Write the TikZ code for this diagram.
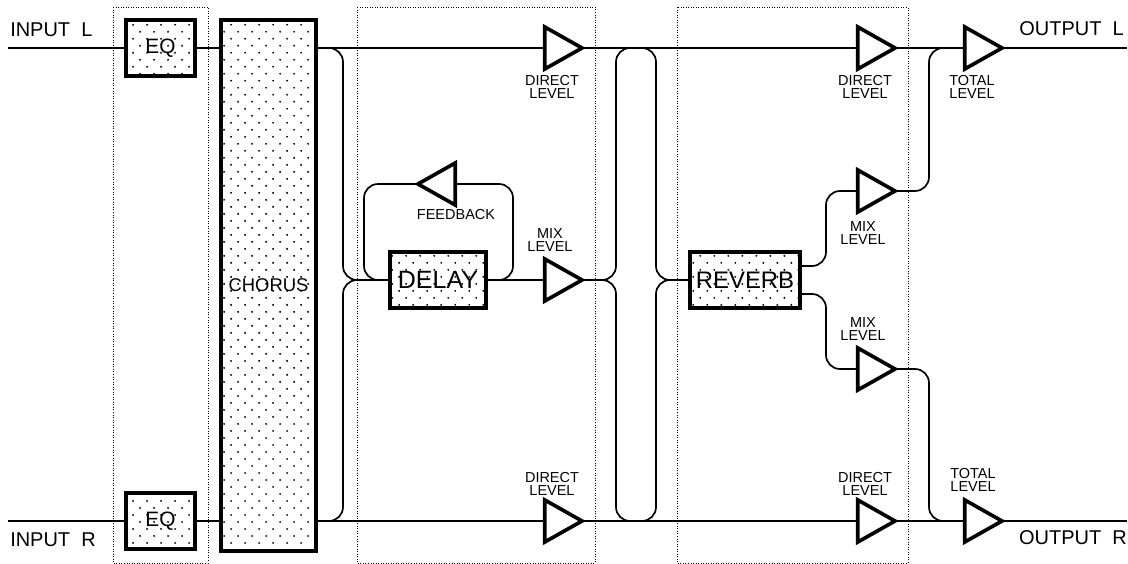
\documentclass[tikz,border=0pt]{standalone}
\usepackage{fontspec}
\setmainfont{Liberation Sans}
\usetikzlibrary{shapes.geometric,patterns}

\pgfdeclarepatternformonly{stipple}{\pgfqpoint{-1pt}{-1pt}}{\pgfqpoint{8.96pt}{8.96pt}}{\pgfqpoint{9.96pt}{9.96pt}}{
    \pgfpathcircle{\pgfqpoint{0pt}{0pt}}{.75pt}
    \pgfpathcircle{\pgfqpoint{4.98pt}{4.98pt}}{.75pt}
    \pgfusepath{fill}
}

\tikzset{
    sig/.style={line width=1.2pt,rounded corners=.35cm},
    group/.style={line width=.7pt,dash pattern=on .7pt off 1.1pt},
    fx/.style={draw,line width=2.4pt,pattern=stipple,inner sep=0pt,outer sep=0pt},
    amp/.style={draw,line width=2.6pt,isosceles triangle,isosceles triangle stretches,
        minimum width=1.05cm,minimum height=.93cm,inner sep=0pt,outer sep=0pt},
    io/.style={font=\fontsize{14.2}{16}\selectfont,inner sep=0pt},
    lvl/.style={font=\fontsize{10.3}{9.4}\selectfont,align=center,inner sep=0pt},
}

\begin{document}
\begin{tikzpicture}[x=.025cm,y=-.025cm]
    \useasboundingbox (0,0) rectangle (1128,564);
    \def\ytop{48}
    \def\ymid{280}
    \def\ybot{521}

    %======================================================
    % dotted groups
    %======================================================
    \draw[group] (113,7) rectangle (208,563);
    \draw[group] (357,7) rectangle (595,563);
    \draw[group] (677,7) rectangle (908,563);

    %======================================================
    % effect blocks
    %======================================================
    \node[fx,minimum width=1.725cm,minimum height=1.4cm,font=\fontsize{14.8}{16}\selectfont] (eqL) at (160.5,\ytop) {EQ};
    \node[fx,minimum width=1.725cm,minimum height=1.4cm,font=\fontsize{14.8}{16}\selectfont] (eqR) at (160.5,\ybot) {EQ};
    \node[fx,minimum width=2.375cm,minimum height=13.275cm,font=\fontsize{13.1}{15}\selectfont] (chorus) at (268.5,285.5) {CHORUS};
    \node[fx,minimum width=2.4cm,minimum height=1.4cm,font=\fontsize{17.8}{20}\selectfont] (delay) at (438,\ymid) {DELAY};
    \node[fx,minimum width=2.75cm,minimum height=1.4cm,font=\fontsize{17}{20}\selectfont] (reverb) at (745,\ymid) {REVERB};

    %======================================================
    % level triangles
    %======================================================
    \node[amp,anchor=apex] (dirA) at (582,\ytop) {};
    \node[amp,anchor=apex] (dirB) at (582,\ybot) {};
    \node[amp,anchor=apex] (mixD) at (582,\ymid) {};
    \node[amp,anchor=apex,shape border rotate=180] (fback) at (418,184) {};
    \node[amp,anchor=apex] (dirC) at (895,\ytop) {};
    \node[amp,anchor=apex] (dirD) at (895,\ybot) {};
    \node[amp,anchor=apex] (mixU) at (895,191) {};
    \node[amp,anchor=apex] (mixL) at (895,369) {};
    \node[amp,anchor=apex] (totL) at (1002,\ytop) {};
    \node[amp,anchor=apex] (totR) at (1002,\ybot) {};

    %======================================================
    % free ends
    %======================================================
    \coordinate (inL) at (8,\ytop);
    \coordinate (inR) at (8,\ybot);
    \coordinate (outL) at (1127,\ytop);
    \coordinate (outR) at (1127,\ybot);
    \coordinate (revU) at (800,266);
    \coordinate (revD) at (800,294);

    %======================================================
    % connectors
    %======================================================
    \draw[sig] (inL) -- (eqL.west);
    \draw[sig] (inR) -- (eqR.west);
    \draw[sig] (eqL.east) -- (chorus.west |- eqL);
    \draw[sig] (eqR.east) -- (chorus.west |- eqR);
    \draw[sig] (chorus.east |- eqL) -- (dirA.lower side);
    \draw[sig] (chorus.east |- eqR) -- (dirB.lower side);

    % into the delay
    \draw[sig] (chorus.east |- eqL) -- (343,\ytop) -- (343,\ymid) -- (delay.west);
    \draw[sig] (chorus.east |- eqR) -- (343,\ybot) -- (343,\ymid) -- (delay.west);

    % feedback loop
    \draw[sig] (delay.east) -- (513,\ymid) -- (513,184) -- (fback.lower side);
    \draw[sig] (fback.apex) -- (364,184) -- (364,\ymid) -- (delay.west);
    \draw[sig] (delay.east) -- (mixD.lower side);

    % direct lines
    \draw[sig] (dirA.apex) -- (dirC.lower side);
    \draw[sig] (dirB.apex) -- (dirD.lower side);

    % into the reverb
    \draw[sig] (mixD.apex) -- (616,\ymid) -- (616,\ytop) -- (656,\ytop) -- (656,\ymid) -- (reverb.west);
    \draw[sig] (mixD.apex) -- (616,\ymid) -- (616,\ybot) -- (656,\ybot) -- (656,\ymid) -- (reverb.west);

    % reverb outputs
    \draw[sig] (revU) -- (826,266) -- (826,191) -- (mixU.lower side);
    \draw[sig] (revD) -- (826,294) -- (826,369) -- (mixL.lower side);
    \draw[sig] (mixU.apex) -- (929,191) -- (929,\ytop) -- (totL.lower side);
    \draw[sig] (mixL.apex) -- (929,369) -- (929,\ybot) -- (totR.lower side);
    \draw[sig] (dirC.apex) -- (totL.lower side);
    \draw[sig] (dirD.apex) -- (totR.lower side);
    \draw[sig] (totL.apex) -- (outL);
    \draw[sig] (totR.apex) -- (outR);

    %======================================================
    % labels
    %======================================================
    \node[io,anchor=west] (tInL) at (10,30) {INPUT\ \ L};
    \node[io,anchor=west] (tInR) at (10,540) {INPUT\ \ R};
    \node[io,anchor=east] (tOutL) at (1124,29) {OUTPUT\ \ L};
    \node[io,anchor=east] (tOutR) at (1127,538) {OUTPUT\ \ R};

    \node[lvl] (lDirA) at (552,87) {DIRECT\\LEVEL};
    \node[lvl] (lDirB) at (552,484) {DIRECT\\LEVEL};
    \node[lvl] (lMixD) at (550,240) {MIX\\LEVEL};
    \node[lvl] (lFback) at (456,215) {FEEDBACK};
    \node[lvl] (lDirC) at (865,87) {DIRECT\\LEVEL};
    \node[lvl] (lDirD) at (865,484) {DIRECT\\LEVEL};
    \node[lvl] (lMixU) at (863,233) {MIX\\LEVEL};
    \node[lvl] (lMixL) at (863,329) {MIX\\LEVEL};
    \node[lvl] (lTotL) at (972,87) {TOTAL\\LEVEL};
    \node[lvl] (lTotR) at (973,480) {TOTAL\\LEVEL};
\end{tikzpicture}
\end{document}
